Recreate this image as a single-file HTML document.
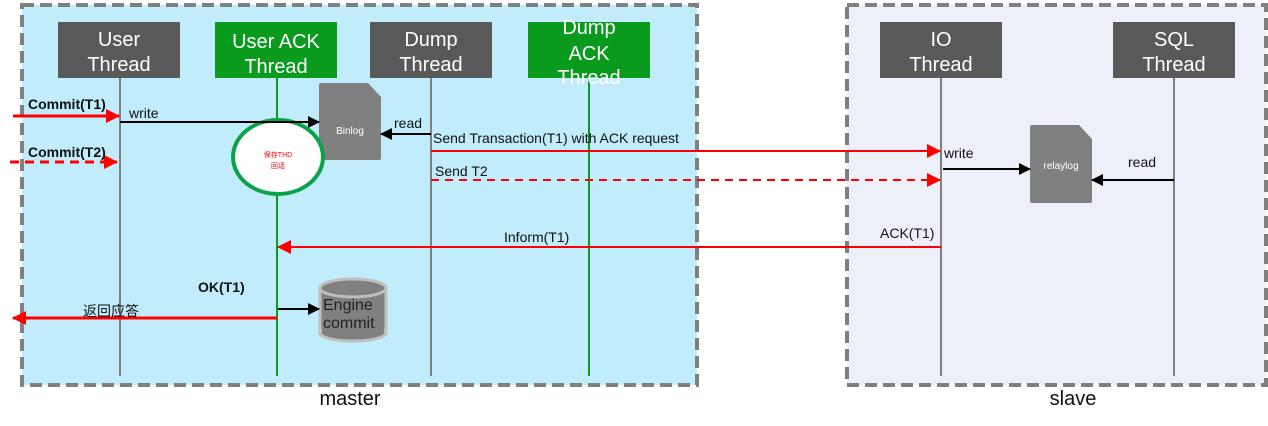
<!DOCTYPE html>
<html><head><meta charset="utf-8"><style>body{margin:0;background:#fff}svg{display:block}text{font-family:"Liberation Sans","Noto Sans CJK SC",sans-serif}</style></head><body>
<svg width="1268" height="426" viewBox="0 0 1268 426" xmlns="http://www.w3.org/2000/svg">
<defs>
<marker id="r" markerWidth="14" markerHeight="14" refX="13" refY="7" orient="auto" markerUnits="userSpaceOnUse"><path d="M0,0 L14,7 L0,14 z" fill="#f00"/></marker>
<marker id="k" markerWidth="12" markerHeight="12" refX="11" refY="6" orient="auto" markerUnits="userSpaceOnUse"><path d="M0,0 L12,6 L0,12 z" fill="#000"/></marker>
</defs>
<rect x="22" y="5" width="675" height="380" fill="#c0ecfb" stroke="#808080" stroke-width="4" stroke-dasharray="12,6"/>
<rect x="847" y="5" width="419" height="380" fill="#eef0f9" stroke="#808080" stroke-width="4" stroke-dasharray="12,6"/>
<g stroke-width="2">
<line x1="120" y1="78" x2="120" y2="376" stroke="#808080"/>
<line x1="277" y1="78" x2="277" y2="376" stroke="#0a9a1e"/>
<line x1="431" y1="78" x2="431" y2="376" stroke="#808080"/>
<line x1="589" y1="78" x2="589" y2="376" stroke="#0a9a1e"/>
<line x1="941" y1="78" x2="941" y2="376" stroke="#808080"/>
<line x1="1174" y1="78" x2="1174" y2="376" stroke="#808080"/>
</g>
<g font-size="20" fill="#fff" text-anchor="middle">
<rect x="58" y="22" width="122" height="56" fill="#595959"/><text x="119" y="46">User</text><text x="119" y="71">Thread</text>
<rect x="215" y="22" width="122" height="56" fill="#0a9a1e"/><text x="276" y="48">User ACK</text><text x="276" y="73">Thread</text>
<rect x="370" y="22" width="122" height="56" fill="#595959"/><text x="431" y="46">Dump</text><text x="431" y="71">Thread</text>
<rect x="528" y="22" width="122" height="56" fill="#0a9a1e"/><text x="589" y="34">Dump</text><text x="589" y="60">ACK</text><text x="589" y="84">Thread</text>
<rect x="880" y="22" width="122" height="56" fill="#595959"/><text x="941" y="46">IO</text><text x="941" y="71">Thread</text>
<rect x="1113" y="22" width="122" height="56" fill="#595959"/><text x="1174" y="46">SQL</text><text x="1174" y="71">Thread</text>
</g>
<path d="M321,83 H368 L381,97 V158 Q381,160 379,160 H321 Q319,160 319,158 V85 Q319,83 321,83 Z" fill="#808080"/>
<text x="350" y="134" font-size="10" fill="#fff" text-anchor="middle">Binlog</text>
<path d="M1032,125 H1079 L1092,139 V201 Q1092,203 1090,203 H1032 Q1030,203 1030,201 V127 Q1030,125 1032,125 Z" fill="#808080"/>
<text x="1061" y="169" font-size="10" fill="#fff" text-anchor="middle">relaylog</text>
<ellipse cx="278" cy="157" rx="45" ry="37" fill="#fff" stroke="#0aa34a" stroke-width="4"/>
<text x="278" y="157" font-size="7" fill="#f00" text-anchor="middle">保存THD</text>
<text x="278" y="168" font-size="7" fill="#f00" text-anchor="middle">回话</text>
<rect x="320" y="288" width="66" height="45" fill="#808080" stroke="#bfbfbf" stroke-width="3"/>
<ellipse cx="353" cy="333" rx="33" ry="8" fill="#808080" stroke="#bfbfbf" stroke-width="3"/>
<rect x="322" y="288" width="62" height="44" fill="#808080"/>
<ellipse cx="353" cy="288" rx="33" ry="9" fill="#808080" stroke="#bfbfbf" stroke-width="3"/>
<text x="323" y="310" font-size="16" fill="#222">Engine</text>
<text x="323" y="328" font-size="16" fill="#222">commit</text>
<g fill="none">
<line x1="13" y1="116" x2="119" y2="116" stroke="#f00" stroke-width="3" marker-end="url(#r)"/>
<line x1="10" y1="162" x2="117" y2="162" stroke="#f00" stroke-width="3" stroke-dasharray="9,6" marker-end="url(#r)"/>
<line x1="120" y1="122" x2="319" y2="122" stroke="#000" stroke-width="2" marker-end="url(#k)"/>
<line x1="431" y1="134" x2="381" y2="134" stroke="#000" stroke-width="2" marker-end="url(#k)"/>
<line x1="431" y1="151" x2="940" y2="151" stroke="#f00" stroke-width="2" marker-end="url(#r)"/>
<line x1="431" y1="180" x2="940" y2="180" stroke="#f00" stroke-width="2" stroke-dasharray="8,6" marker-end="url(#r)"/>
<line x1="943" y1="169" x2="1030" y2="169" stroke="#000" stroke-width="2" marker-end="url(#k)"/>
<line x1="1174" y1="180" x2="1092" y2="180" stroke="#000" stroke-width="2" marker-end="url(#k)"/>
<line x1="941" y1="247" x2="278" y2="247" stroke="#f00" stroke-width="2" marker-end="url(#r)"/>
<line x1="277" y1="318" x2="13" y2="318" stroke="#f00" stroke-width="3" marker-end="url(#r)"/>
<line x1="278" y1="309" x2="319" y2="309" stroke="#000" stroke-width="2" marker-end="url(#k)"/>
</g>
<g font-size="14" fill="#111">
<text x="28" y="109" font-weight="bold">Commit(T1)</text>
<text x="28" y="157" font-weight="bold">Commit(T2)</text>
<text x="129" y="118">write</text>
<text x="394" y="128">read</text>
<text x="433" y="143">Send Transaction(T1)  with ACK request</text>
<text x="435" y="176">Send  T2</text>
<text x="944" y="158">write</text>
<text x="1128" y="167">read</text>
<text x="504" y="242">Inform(T1)</text>
<text x="880" y="238">ACK(T1)</text>
<text x="198" y="292" font-weight="bold">OK(T1)</text>
<text x="83" y="316">返回应答</text>
</g>
<text x="350" y="405" font-size="20" fill="#111" text-anchor="middle">master</text>
<text x="1073" y="405" font-size="20" fill="#111" text-anchor="middle">slave</text>
</svg>
</body></html>
